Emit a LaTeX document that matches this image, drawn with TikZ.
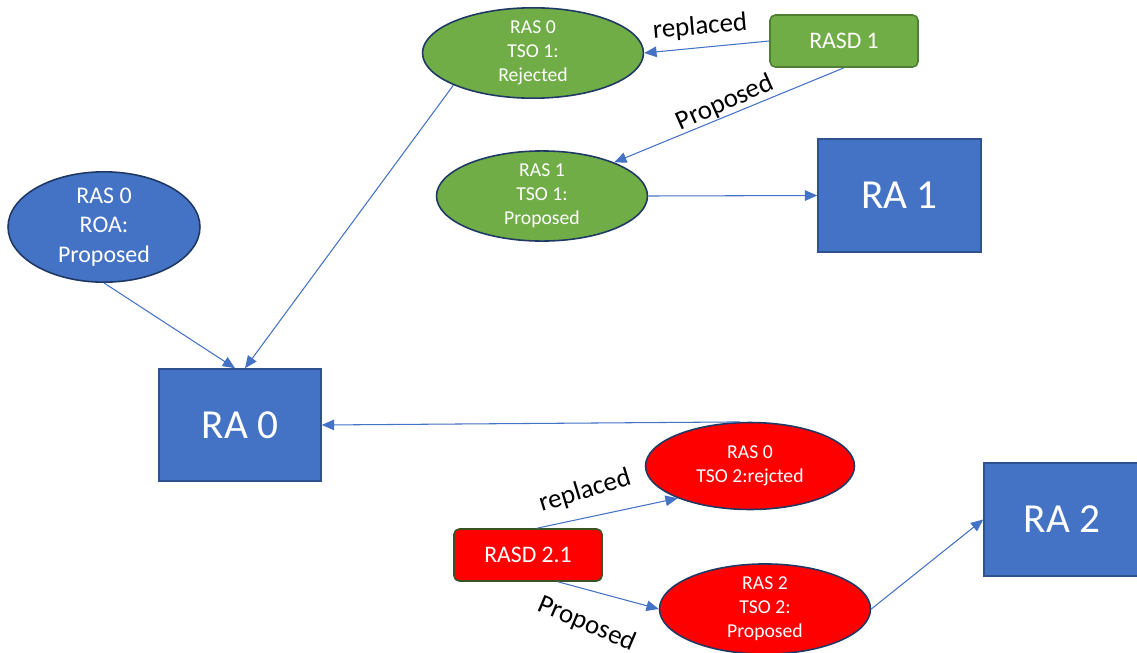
\documentclass[tikz,border=0pt]{standalone}
\usepackage{fontspec}
\setmainfont{Carlito}
\usetikzlibrary{shapes.geometric,arrows.meta,calc}
\definecolor{oblue}{HTML}{4472C4}
\definecolor{ogreen}{HTML}{70AD47}
\definecolor{ored}{HTML}{FF0000}
\definecolor{navy}{HTML}{1F3864}
\definecolor{bluebd}{HTML}{2F528F}
\definecolor{greenbd}{HTML}{507E32}
\definecolor{redbd}{HTML}{3B5323}
\tikzset{
  ell/.style={ellipse, draw=navy, line width=0.9pt, inner sep=0pt, align=center, text=white,
    font=\fontsize{11.2}{13.6}\selectfont},
  gell/.style={ell, fill=ogreen},
  bell/.style={ell, fill=oblue},
  rell/.style={ell, fill=ored},
  rabox/.style={rectangle, draw=bluebd, line width=0.9pt, fill=oblue, text=white,
    minimum width=3.24cm, minimum height=2.24cm, font=\fontsize{23.5}{28}\selectfont},
  sdbox/.style={rectangle, rounded corners=3pt, line width=0.9pt, text=white,
    minimum width=2.96cm, minimum height=1.04cm, font=\fontsize{13.5}{16}\selectfont},
  conn/.style={draw=oblue, line width=0.6pt, -{Triangle[length=7pt,width=6pt]}},
  lbl/.style={font=\fontsize{15.3}{18}\selectfont, text=black, inner sep=0pt}
}
\begin{document}
\begin{tikzpicture}[x=0.02cm,y=-0.02cm]
\useasboundingbox (0,0) rectangle (1137,653);
% nodes
\node[gell, minimum width=4.42cm, minimum height=1.72cm] (rej) at (533,53) {RAS 0\\TSO 1:\\Rejected};
\node[sdbox, fill=ogreen, draw=greenbd] (rasd1) at (844,41) {RASD 1};
\node[gell, minimum width=4.22cm, minimum height=1.74cm] (ras1) at (542,196) {RAS 1\\TSO 1:\\Proposed};
\node[rabox, minimum width=3.26cm, minimum height=2.26cm] (ra1) at (899.5,195.5) {RA 1};
\node[bell, minimum width=3.84cm, minimum height=1.86cm, font=\fontsize{13.6}{16.7}\selectfont] (roa) at (104,227) {RAS 0\\ROA:\\Proposed};
\node[rabox] (ra0) at (240,425) {RA 0};
\node[rell, minimum width=4.18cm, minimum height=1.74cm] (redrej) at (750,466) {RAS 0\\TSO 2:rejcted};
\node[sdbox, fill=ored, draw=redbd] (rasd21) at (528,555) {RASD 2.1};
\node[rell, minimum width=4.22cm, minimum height=1.72cm] (redprop) at (765,609) {RAS 2\\TSO 2:\\Proposed};
\node[rabox, minimum width=3.12cm, minimum height=2.26cm] (ra2) at (1062,519.5) {RA 2};
% connectors
\draw[conn] (rasd1.west) -- (rej.east);
\draw[conn] (rasd1.south) -- (ras1.25);
\draw[conn] (ras1.east) -- (ra1.west);
\draw[conn] (rej.202) -- ($(ra0.north)+(5,0)$);
\draw[conn] (roa.south) -- ($(ra0.north)+(-5,0)$);
\draw[conn] (redrej.103) -- (ra0.east);
\draw[conn] ($(rasd21.north)+(9,0)$) -- (redrej.204);
\draw[conn] ($(rasd21.south)+(30,0)$) -- (redprop.west);
\draw[conn] (redprop.east) -- (ra2.west);
% labels
\node[lbl, rotate=5] (l1) at (700,27) {replaced};
\node[lbl, rotate=24] (l2) at (725,103) {Proposed};
\node[lbl, rotate=17] (l3) at (585,491) {replaced};
\node[lbl, rotate=-23] (l4) at (587,624) {Proposed};
\end{tikzpicture}
\end{document}
